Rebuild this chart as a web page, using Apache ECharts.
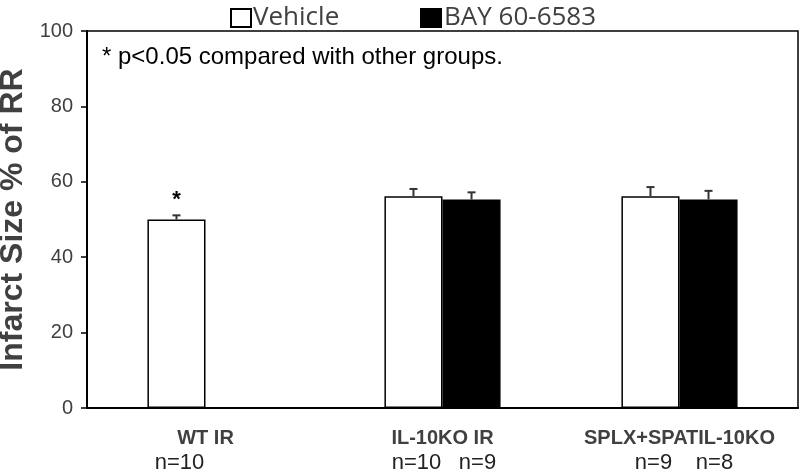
<!DOCTYPE html>
<html>
<head>
<meta charset="utf-8">
<script src="https://cdn.jsdelivr.net/npm/echarts@6/dist/echarts.min.js"></script>
<style>
    html, body { margin: 0; padding: 0; background: #fff; }
    #chart { width: 800px; height: 472px; }
</style>
</head>
<body>
<div id="chart"></div>
<script>
var categories = ['WT IR', 'IL-10KO IR', 'SPLX+SPATIL-10KO'];
var vehicleValues = [50.0, 56.2, 56.2];
var vehicleErrors = [1.1, 1.9, 2.4];
var bayValues = [null, 55.3, 55.3];
var bayErrors = [null, 1.9, 2.3];
var vehicleN = ['n=10', 'n=10', 'n=9'];
var bayN = ['', 'n=9', 'n=8'];
var sigMarks = ['*', '', ''];
var yTicks = [0, 20, 40, 60, 80, 100];

var GREY = '#404040';
var BAR_W = 0.245;   // share of a category band for one bar

// error bar points: [category, value, error, slot(0 vehicle / 1 bay), mark]
var errData = [];
for (var i = 0; i < categories.length; i++) {
    errData.push([i, vehicleValues[i], vehicleErrors[i], 0, sigMarks[i]]);
    if (bayValues[i] != null) {
        errData.push([i, bayValues[i], bayErrors[i], 1, '']);
    }
}

function renderErr(params, api) {
    var cat = api.value(0), val = api.value(1), err = api.value(2), slot = api.value(3);
    var band = api.size([1, 0])[0];
    var c = api.coord([cat, val]);
    var x = c[0] + (slot === 0 ? -1 : 1) * band * BAR_W / 2;
    var yTop = api.coord([cat, val + err])[1];
    var st = { stroke: '#333', lineWidth: 2 };
    var children = [
        { type: 'line', shape: { x1: x, y1: c[1], x2: x, y2: yTop }, style: st },
        { type: 'line', shape: { x1: x - 4, y1: yTop, x2: x + 4, y2: yTop }, style: st }
    ];
    var mark = errData[params.dataIndex][4];
    if (mark) {
        children.push({
            type: 'text',
            style: { text: mark, x: x, y: yTop - 4, align: 'center', verticalAlign: 'bottom',
                     font: 'bold 22px "Liberation Sans"', fill: '#000' }
        });
    }
    return { type: 'group', children: children };
}

var myChart = echarts.init(document.getElementById('chart'));
myChart.setOption({
    animation: false,
    textStyle: { fontFamily: 'Liberation Sans' },
    grid: {
        left: 87, right: 2, top: 31, bottom: 64,
        outerBoundsMode: 'none', containLabel: false,
        show: true, borderColor: '#000', borderWidth: 1.5, backgroundColor: 'transparent'
    },
    legend: [{
        left: 225, top: 0, icon: 'rect', itemWidth: 20, itemHeight: 18,
        data: ['Vehicle'],
        textStyle: { fontFamily: 'Open Sans', fontSize: 26, color: GREY, padding: [0, 0, 0, -3] }
    }, {
        left: 415, top: 0, icon: 'rect', itemWidth: 20, itemHeight: 18,
        data: ['BAY 60-6583'],
        textStyle: { fontFamily: 'Open Sans', fontSize: 26, color: GREY, padding: [0, 0, 0, -2] }
    }],
    graphic: [{
        type: 'text', left: 102, top: 45,
        style: { text: '* p<0.05 compared with other groups.', font: '24px "Liberation Sans"', fill: '#000' }
    }],
    xAxis: {
        type: 'category',
        data: categories,
        axisLine: { lineStyle: { color: '#000', width: 2 } },
        axisTick: { show: false },
        axisLabel: { interval: 0, hideOverlap: false, margin: 20, fontSize: 20, fontWeight: 'bold', color: GREY }
    },
    yAxis: {
        type: 'value',
        min: yTicks[0], max: yTicks[yTicks.length - 1], interval: 20,
        name: 'Infarct Size % of RR',
        nameLocation: 'middle', nameGap: 48,
        nameTextStyle: { fontSize: 32, fontWeight: 'bold', color: GREY },
        axisLine: { show: true, lineStyle: { color: '#000', width: 2 } },
        axisTick: { show: true, length: 6, lineStyle: { color: '#000', width: 1.5 } },
        axisLabel: { margin: 14, fontSize: 20, color: GREY },
        splitLine: { show: false }
    },
    series: [{
        name: 'Vehicle',
        type: 'bar',
        barWidth: (BAR_W * 100) + '%',
        barGap: 0,
        data: vehicleValues,
        itemStyle: { color: '#fff', borderColor: '#000', borderWidth: 1.5 },
        label: {
            show: true, position: 'bottom', distance: 44, offset: [3, 0],
            fontSize: 22, color: '#222',
            formatter: function (p) { return vehicleN[p.dataIndex]; }
        }
    }, {
        name: 'BAY 60-6583',
        type: 'bar',
        barWidth: (BAR_W * 100) + '%',
        data: bayValues,
        itemStyle: { color: '#000', borderColor: '#000', borderWidth: 1.5 },
        label: {
            show: true, position: 'bottom', distance: 44, offset: [6, 0],
            fontSize: 22, color: '#222',
            formatter: function (p) { return bayN[p.dataIndex]; }
        }
    }, {
        type: 'custom',
        renderItem: renderErr,
        data: errData,
        z: 5,
        silent: true
    }]
});
</script>
</body>
</html>
